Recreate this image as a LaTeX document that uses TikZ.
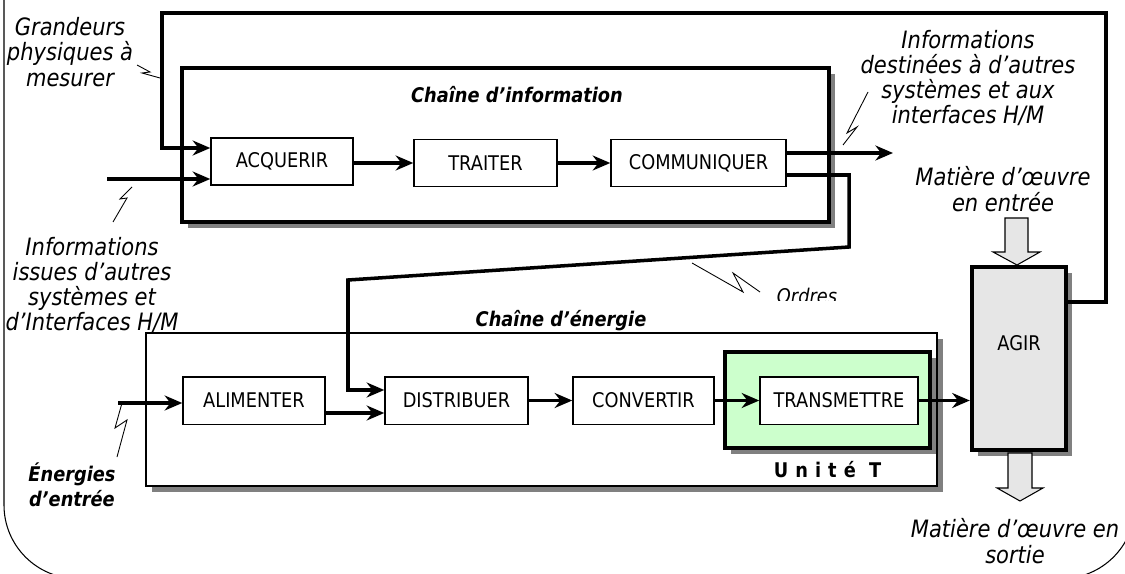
\documentclass[tikz,border=0pt]{standalone}
\usepackage{fontspec}
\setmainfont{DejaVu Sans}[FakeStretch=0.88]
\usetikzlibrary{arrows.meta,shadows,fit,positioning}
\definecolor{vertT}{HTML}{CCFFCC}
\definecolor{grisAgir}{HTML}{E6E6E6}
\newcommand{\tc}{\fontsize{11.5}{14.2}\selectfont}
\newcommand{\tg}{\fontsize{13.6}{14.4}\selectfont}
\tikzset{
  flow/.style={line width=2pt, -{Stealth[length=10pt,width=8.5pt]}},
  bloc/.style={draw, line width=0.85pt, fill=white, minimum height=0.95cm, inner sep=0pt},
  ombre/.style={drop shadow={shadow xshift=3.4pt, shadow yshift=-3.4pt, fill=gray, opacity=1}},
  eclair/.style={line width=0.5pt},
  txt/.style={font=\tg\itshape, align=center},
}
\begin{document}
\begin{tikzpicture}[x=0.02cm, y=-0.02cm, every node/.style={font=\tc}]
\useasboundingbox (0,0) rectangle (1125,574);
\clip (0,0) rectangle (1125,574);

% cadre
\draw[line width=0.6pt, rounded corners=1.47cm] (4,-200) rectangle (1135,578.6);

% chaine d'information
\node[draw, line width=2.2pt, fill=white, ombre, inner sep=0pt, fit={(182,68) (829,222)}] (info) {};
\node[font=\tc\bfseries\itshape] (titreinfo) at (517,95) {Chaîne d’information};
\node[bloc, minimum width=2.84cm] (acq) at (282,161.5) {ACQUERIR};
\node[bloc, minimum width=2.86cm] (trait) at (485.5,163) {TRAITER};
\node[bloc, minimum width=3.5cm] (comm) at (698.5,163) {COMMUNIQUER};

% chaine d'energie
\node[draw, line width=1pt, fill=white, ombre, inner sep=0pt, fit={(146,333) (937,486)}] (energie) {};
\node[font=\tc\bfseries\itshape] (titreenergie) at (561,321) {Chaîne d’énergie};
\node[draw, line width=2.5pt, fill=vertT, ombre, inner sep=0pt, fit={(725,352) (930,448)},
  label={[font=\tc\bfseries\addfontfeature{LetterSpace=35}, label distance=3pt]below:Unité T}] (unite) {};
\node[bloc, minimum width=2.84cm] (alim) at (254,400.5) {ALIMENTER};
\node[bloc, minimum width=2.86cm] (distrib) at (456.5,400.5) {DISTRIBUER};
\node[bloc, minimum width=2.82cm] (conv) at (643.5,400.5) {CONVERTIR};
\node[bloc, minimum width=3.16cm] (trans) at (839,400.5) {TRANSMETTRE};

% agir + matiere d'oeuvre
\node[draw, line width=2.5pt, fill=grisAgir, ombre, inner sep=0pt, fit={(972,267) (1066,450)},
  label={[yshift=8.5pt]center:AGIR}] (agir) {};
\draw[line width=0.6pt, fill=grisAgir] (1005,218) -- (1028,218) -- (1028,252) -- (1040,252)
  -- (1017,265) -- (993,252) -- (1005,252) -- cycle;
\draw[line width=0.6pt, fill=grisAgir] (1008,453) -- (1032,453) -- (1032,488) -- (1043,488)
  -- (1020,501) -- (997,488) -- (1008,488) -- cycle;

% textes
\node[txt] (grandeurs) at (70,52) {Grandeurs\\physiques à\\mesurer};
\node[txt] (infoissues) at (92,285) {Informations\\issues d’autres\\systèmes et\\d’Interfaces H/M};
\node[txt, font=\tc\bfseries\itshape] (energies) at (72,485) {Énergies\\d’entrée};
\node[txt] (infodest) at (968,78) {Informations\\destinées à d’autres\\systèmes et aux\\interfaces H/M};
\node[txt] (matentree) at (1003,189) {Matière d'œuvre\\en entrée};
\node[txt] (matsortie) at (1015,541) {Matière d'œuvre en\\sortie};
\begin{scope}
  \clip (700,250) rectangle (900,300);
  \node[txt, font=\tc\itshape] (ordres) at (807,296) {Ordres};
\end{scope}

% boucle de retour
\coordinate (r1) at (1106,302);
\coordinate (r2) at (1106,13);
\coordinate (r3) at (162,13);
\coordinate (r4) at (162,148);
\draw[flow] (agir.east |- r1) -- (r1) -- (r2) -- (r3) -- (r4) -- (acq.west |- r4);

% flux d'information
\coordinate (infoin) at (107,179);
\draw[flow] (infoin) -- (acq.west |- infoin);
\draw[flow] (acq.east |- trait) -- (trait.west);
\draw[flow] (trait) -- (comm);
\coordinate (infoout) at (893,153);
\draw[flow] (comm.east |- infoout) -- (infoout);

% ordres
\coordinate (o1) at (849,175);
\coordinate (o2) at (849,247);
\coordinate (o3) at (348,280);
\coordinate (o4) at (348,390);
\draw[flow] (comm.east |- o1) -- (o1) -- (o2) -- (o3) -- (o4) -- (distrib.west |- o4);

% flux d'energie
\coordinate (energin) at (118,403);
\draw[flow] (energin) -- (alim.west |- energin);
\coordinate (a1) at (328,413);
\draw[flow] (alim.east |- a1) -- (distrib.west |- a1);
\draw[flow] (distrib) -- (conv);
\draw[flow] (conv) -- (trans);
\draw[flow] (trans) -- (agir.west |- trans);

% eclairs
\draw[eclair] (137,65) -- (150,72) -- (142,73) -- (160,78);
\draw[eclair] (113,222) -- (127,198) -- (120,199) -- (132,187);
\draw[eclair] (117,457) -- (127,420) -- (115,428) -- (122,403);
\draw[eclair] (843,145) -- (857,127) -- (847,133) -- (868,92);
\draw[eclair] (692,263) -- (743,292) -- (733,273) -- (760,292);
\end{tikzpicture}
\end{document}
